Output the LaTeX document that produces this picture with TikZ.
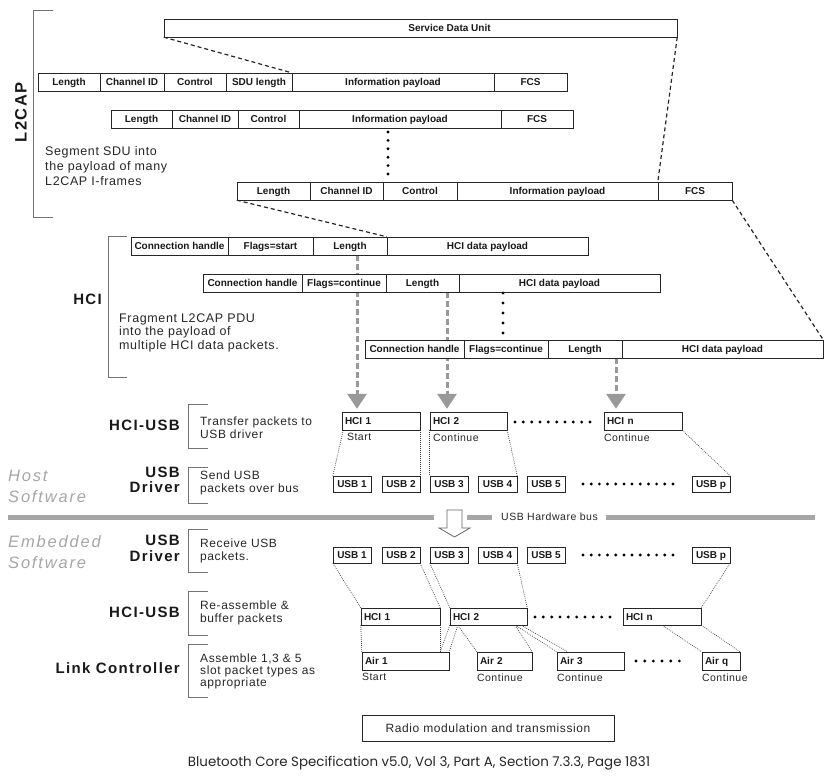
\documentclass[tikz,border=0pt]{standalone}
\usepackage{fontspec}
\setmainfont{Liberation Sans}
\newfontfamily\descfont[LetterSpace=5]{Liberation Sans}
\newfontfamily\layerfont[LetterSpace=9]{Liberation Sans}
\newfontfamily\domfont[LetterSpace=11]{Liberation Sans}
\newfontfamily\capfont{Poppins}
\usepackage{tikz}
\usetikzlibrary{positioning,arrows.meta,backgrounds}
\tikzset{
  field/.style={ draw=black!85, fill=white, minimum height=18, inner sep=0, text height=7.5, text depth=0.5, text=black!90, font=\bfseries\fontsize{10}{12}\selectfont }
}
\tikzset{
  pkt/.style={ draw=black!85, fill=white, minimum height=18, inner xsep=3, inner ysep=0, text height=7.5, text depth=0.5, align=left, text=black!90, font=\bfseries\fontsize{10}{12}\selectfont }
}
\tikzset{
  usbbox/.style={ draw=black!85, fill=white, minimum height=16, minimum width=38, inner sep=0, text height=7.5, text depth=0.5, text=black!90, font=\bfseries\fontsize{10}{12}\selectfont }
}
\tikzset{
  desc/.style={ anchor=north west, align=left, inner sep=0, text=black!85, font=\descfont\fontsize{12}{12.5}\selectfont }
}
\tikzset{
  note/.style={ anchor=north west, inner sep=0, text=black!85, font=\descfont\fontsize{10.5}{12}\selectfont }
}
\tikzset{
  layer/.style={ anchor=north east, align=right, inner sep=0, text=black!90, font=\layerfont\bfseries\fontsize{15}{16}\selectfont }
}
\tikzset{
  swside/.style={ anchor=north west, align=left, inner sep=0, text=black!35, font=\domfont\itshape\fontsize{16.5}{21}\selectfont }
}
\tikzset{
  brkt/.style={ draw=black!55, line width=1 }
}
\tikzset{
  l2dash/.style={ draw=black!85, line width=1.2, dash pattern=on 4pt off 3pt }
}
\tikzset{
  thindot/.style={ draw=black!75, line width=0.7, dash pattern=on 0.8pt off 1.2pt }
}
\tikzset{
  dotrow/.style={ draw=black, line width=3.2, line cap=round, dash pattern=on 0pt off #1 }
}
\tikzset{
  hciarrow/.style={ draw=black!40, line width=3, dash pattern=on 6pt off 3pt, shorten >=3pt, -{Triangle[width=19pt,length=15pt]} }
}
\tikzset{
  busbar/.style={ draw=black!35, line width=5 }
}

\begin{document}
\begin{tikzpicture}[x=1pt, y=-1pt]
      \useasboundingbox (0,0) rectangle (837,779);
      % L2CAP
      \node[layer, anchor=center, rotate=90, font=\layerfont\bfseries\fontsize{16.5}{18}\selectfont] (l2cap) at (21,112.5) {L2CAP};
      \draw[brkt] (53,10) -- (33,10) -- (33,217) -- (53,217);
      \node[desc, font=\descfont\fontsize{12.5}{15}\selectfont] (segtxt) at (45,146.5) {Segment SDU into\\the payload of many\\L2CAP I-frames};
      \node[field, minimum width=513] (sdu) at (420.5,28) {\hspace*{58pt}Service Data Unit};
      \node[field, minimum width=62] (l1len) at (69,82) {Length};
      \node[field, minimum width=64] (l1cid) at (132,82) {Channel ID};
      \node[field, minimum width=62] (l1ctl) at (195,82) {Control};
      \node[field, minimum width=66] (l1sdul) at (259,82) {SDU length};
      \node[field, minimum width=202] (l1pay) at (393,82) {Information payload};
      \node[field, minimum width=73] (l1fcs) at (530.5,82) {FCS};
      \node[field, minimum width=61] (l2len) at (141.5,119) {Length};
      \node[field, minimum width=66] (l2cid) at (205,119) {Channel ID};
      \node[field, minimum width=61] (l2ctl) at (268.5,119) {Control};
      \node[field, minimum width=202] (l2pay) at (400,119) {Information payload};
      \node[field, minimum width=72] (l2fcs) at (537,119) {FCS};
      \draw[dotrow=8.4pt] (388,132) -- (388,174);
      \node[field, minimum width=73] (l3len) at (273.5,191) {Length};
      \node[field, minimum width=73] (l3cid) at (346.5,191) {Channel ID};
      \node[field, minimum width=74] (l3ctl) at (420,191) {Control};
      \node[field, minimum width=201] (l3pay) at (557.5,191) {Information payload};
      \node[field, minimum width=74] (l3fcs) at (695,191) {FCS};
      \draw[l2dash] (sdu.south west) -- (l1pay.north west);
      \draw[l2dash] (sdu.south east) -- (l3fcs.north west);
      % HCI
      \node[layer] (hcilab) at (102,293.6) {HCI};
      \draw[brkt] (127,236) -- (108,236) -- (108,377) -- (127,377);
      \node[desc, font=\descfont\fontsize{12.5}{13.5}\selectfont] (fragtxt) at (119,313.5) {Fragment L2CAP PDU\\into the payload of\\multiple HCI data packets.};
      \node[field, minimum width=97] (h1con) at (179.5,246) {Connection handle};
      \node[field, minimum width=85] (h1flg) at (270.5,246) {Flags=start};
      \node[field, minimum width=74] (h1len) at (350,246) {Length};
      \node[field, minimum width=201] (h1pay) at (487.5,246) {HCI data payload};
      \node[field, minimum width=99] (h2con) at (252.5,283) {Connection handle};
      \node[field, minimum width=84] (h2flg) at (344,283) {Flags=continue};
      \node[field, minimum width=73] (h2len) at (422.5,283) {Length};
      \node[field, minimum width=201] (h2pay) at (559.5,283) {HCI data payload};
      \draw[dotrow=10pt] (503,293) -- (503,333);
      \node[field, minimum width=99] (h3con) at (414.5,349) {Connection handle};
      \node[field, minimum width=84] (h3flg) at (506,349) {Flags=continue};
      \node[field, minimum width=74] (h3len) at (585,349) {Length};
      \node[field, minimum width=201] (h3pay) at (722.5,349) {HCI data payload};
      \draw[l2dash] (l3len.south west) -- (h1pay.north west);
      \draw[l2dash] (l3fcs.south east) -- (h3pay.north east);
      % host side
      \node[swside] (host) at (8,470) {Host\\Software};
      \node[layer] (husblab) at (180,419.6) {HCI-USB};
      \draw[brkt] (208,404) -- (188,404) -- (188,448) -- (208,448);
      \node[desc] (husbtxt) at (200,417) {Transfer packets to\\USB driver};
      \node[layer, font=\layerfont\bfseries\fontsize{15}{15.5}\selectfont] (hdrvlab) at (180,466.6) {USB\\Driver};
      \draw[brkt] (208,467) -- (188,467) -- (188,503) -- (208,503);
      \node[desc, font=\descfont\fontsize{12}{13}\selectfont] (hdrvtxt) at (200,471) {Send USB\\packets over bus};
      \node[pkt, text width=72] (hhci1) at (381,421) {HCI 1};
      \node[pkt, text width=71] (hhci2) at (468.5,421) {HCI 2};
      \node[pkt, text width=72] (hhcin) at (643,421) {HCI n};
      \node[note] (hstart) at ([xshift=5pt,yshift=-3pt]hhci1.south west) {Start};
      \node[note] (hcont2) at ([xshift=3pt,yshift=-3pt]hhci2.south west) {Continue};
      \node[note] (hcontn) at ([xshift=0pt,yshift=-3pt]hhcin.south west) {Continue};
      \draw[dotrow=8.33pt] (515,422) -- (590,422);
      \node[usbbox] (husb1) at (352,484) {USB 1};
      \node[usbbox] (husb2) at (401,484) {USB 2};
      \node[usbbox] (husb3) at (449,484) {USB 3};
      \node[usbbox, minimum width=39] (husb4) at (497.5,484) {USB 4};
      \node[usbbox] (husb5) at (546,484) {USB 5};
      \draw[dotrow=8.18pt] (583,484) -- (673,484);
      \node[usbbox] (husbp) at (711,484) {USB p};
      \draw[thindot] ([xshift=1pt,yshift=-2pt]hhci1.south west) -- (husb1.north west);
      \draw[thindot] (hhci1.south east) -- (husb2.north east);
      \draw[thindot] (hhci2.south west) -- (husb3.north west);
      \draw[thindot] (hhci2.south east) -- (husb4.north east);
      \draw[thindot] (hhcin.south east) -- (husbp.north east);
      \begin{scope}[on background layer]
        \draw[hciarrow] ([xshift=7pt]h1len.south) -- ([xshift=7pt]h1len.south |- hhci1.north);
        \draw[hciarrow] ([xshift=24.5pt]h2len.south) -- ([xshift=24.5pt]h2len.south |- hhci2.north);
        \draw[hciarrow] ([xshift=31pt]h3len.south) -- ([xshift=31pt]h3len.south |- hhcin.north);
      \end{scope}
      % USB hardware bus
      \draw[busbar] (8,517) -- (434,517);
      \draw[busbar] (467,517) -- (492,517);
      \draw[busbar] (606,517) -- (815,517);
      \node[note, anchor=center] (bus) at (549.5,517) {USB Hardware bus};
      \draw[draw=black!60, fill=white, line width=0.8] (447,510) -- (462,510) -- (462,528) -- (470,528) -- (454.5,537) -- (439,528) -- (447,528) -- cycle;
      % embedded side
      \node[swside] (embd) at (8,535) {Embedded\\Software};
      \node[layer, font=\layerfont\bfseries\fontsize{15}{16}\selectfont] (edrvlab) at (180,534.6) {USB\\Driver};
      \draw[brkt] (208,529) -- (188,529) -- (188,572) -- (208,572);
      \node[desc, font=\descfont\fontsize{12}{13}\selectfont] (edrvtxt) at (200,539) {Receive USB\\packets.};
      \node[layer] (eusblab) at (180,606.6) {HCI-USB};
      \draw[brkt] (208,591) -- (188,591) -- (188,635) -- (208,635);
      \node[desc] (eusbtxt) at (200,601) {Re-assemble \&\\buffer packets};
      \node[layer] (lclab) at (180,662.6) {Link Controller};
      \draw[brkt] (208,644) -- (188,644) -- (188,697) -- (208,697);
      \node[desc, font=\descfont\fontsize{12}{12}\selectfont] (lctxt) at (200,654) {Assemble 1,3 \& 5\\slot packet types as\\appropriate};
      \node[usbbox] (eusb1) at (352,555) {USB 1};
      \node[usbbox] (eusb2) at (401,555) {USB 2};
      \node[usbbox] (eusb3) at (449,555) {USB 3};
      \node[usbbox, minimum width=39] (eusb4) at (497.5,555) {USB 4};
      \node[usbbox] (eusb5) at (546,555) {USB 5};
      \draw[dotrow=8.18pt] (583,555) -- (673,555);
      \node[usbbox] (eusbp) at (711,555) {USB p};
      \node[pkt, minimum height=17, text width=73] (ehci1) at (400.5,616.5) {HCI 1};
      \node[pkt, minimum height=17, text width=71] (ehci2) at (488.5,616.5) {HCI 2};
      \node[pkt, minimum height=17, text width=72] (ehcin) at (662,616.5) {HCI n};
      \draw[dotrow=8.33pt] (535,617) -- (610,617);
      \node[pkt, text width=81] (air1) at (405.5,661) {Air 1};
      \node[pkt, text width=49] (air2) at (504.5,661) {Air 2};
      \node[pkt, text width=61] (air3) at (590.5,661) {Air 3};
      \node[pkt, text width=32] (airq) at (721,661) {Air q};
      \draw[dotrow=8.67pt] (636,661) -- (688,661);
      \node[note] (astart) at ([yshift=-3pt]air1.south west) {Start};
      \node[note] (acont2) at ([yshift=-3pt]air2.south west) {Continue};
      \node[note] (acont3) at ([yshift=-3pt]air3.south west) {Continue};
      \node[note] (acontq) at ([yshift=-3pt]airq.south west) {Continue};
      \draw[thindot] (eusb1.south west) -- (ehci1.north west);
      \draw[thindot] (eusb2.south east) -- (ehci1.north east);
      \draw[thindot] (eusb3.south west) -- (ehci2.north west);
      \draw[thindot] (eusb4.south east) -- (ehci2.north east);
      \draw[thindot] (eusbp.south east) -- (ehcin.north east);
      \draw[thindot] (ehci1.south west) -- (air1.north west);
      \draw[thindot] (ehci1.south east) -- (ehci1.south east |- air1.north);
      \draw[thindot] (ehci2.south west) -- (ehci1.south east |- air1.north);
      \draw[thindot] ([xshift=8pt]ehci2.south west) -- (air1.north east);
      \draw[thindot] ([xshift=8pt]ehci2.south west) -- (air2.north west);
      \draw[thindot] ([xshift=-12pt]ehci2.south east) -- (air2.north east);
      \draw[thindot] ([xshift=-12pt]ehci2.south east) -- (air3.north west);
      \draw[thindot] ([xshift=-6pt]ehci2.south east) -- ([xshift=11pt]air3.north west);
      \draw[thindot] ([xshift=-39pt]ehcin.south east) -- (airq.north west);
      \draw[thindot] (ehcin.south east) -- (airq.north east);
      \node[field, minimum width=252, minimum height=26, text height=9, text depth=0.5, font=\descfont\fontsize{12}{14}\selectfont, text=black!85] (radio) at (488,728) {Radio modulation and transmission};
      \node[inner sep=0, text=black!85, font=\capfont\fontsize{13.4}{15}\selectfont] (caption) at (419,763) {Bluetooth Core Specification v5.0, Vol 3, Part A, Section 7.3.3, Page 1831};
    \end{tikzpicture}
\end{document}
